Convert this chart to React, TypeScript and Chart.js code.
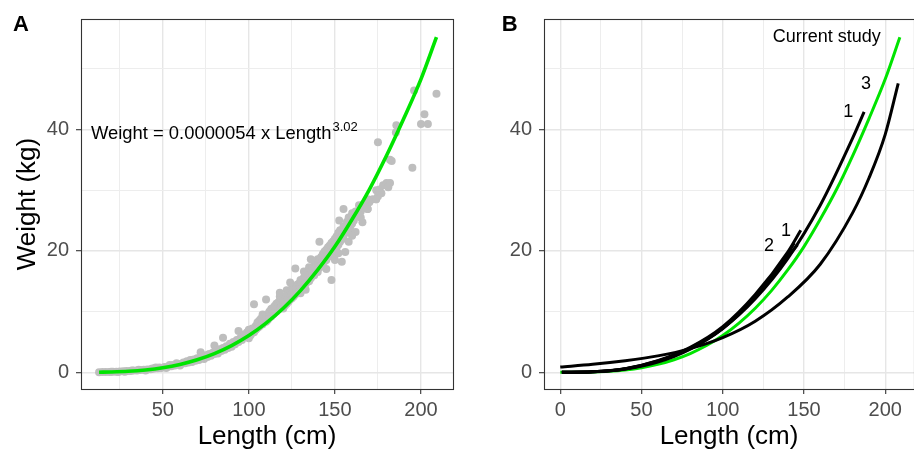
import React, { useEffect, useRef } from 'react';
import { Chart, registerables } from 'chart.js';

Chart.register(...registerables);

// ---------- Panel A: observed length-weight pairs ----------
const scatterLength = [
  13, 15, 17, 19, 20, 21, 23, 24, 25, 27,
  28, 29, 31, 32, 33, 35, 36, 37, 39, 40,
  41, 43, 44, 45, 46, 47, 48, 49, 51, 52,
  53, 54, 55, 56, 57, 58, 59, 60, 61, 62,
  63, 64, 65, 66, 67, 68, 69, 70, 71, 72,
  72, 73, 74, 75, 76, 77, 78, 79, 80, 80,
  81, 82, 83, 84, 85, 85, 86, 87, 88, 89,
  90, 91, 92, 93, 94, 94, 95, 96, 97, 98,
  99, 100, 100, 100, 101, 102, 102, 103, 103, 104,
  104, 105, 105, 106, 106, 107, 107, 108, 108, 108,
  109, 109, 110, 110, 110, 111, 111, 112, 112, 113,
  113, 114, 114, 115, 115, 116, 116, 117, 117, 118,
  118, 118, 119, 119, 120, 120, 120, 121, 121, 122,
  122, 122, 123, 123, 124, 124, 125, 125, 125, 126,
  126, 127, 127, 127, 128, 128, 129, 129, 130, 130,
  130, 131, 131, 132, 132, 132, 133, 133, 133, 134,
  134, 135, 135, 135, 136, 136, 137, 137, 138, 138,
  138, 139, 139, 140, 140, 140, 141, 141, 141, 142,
  142, 143, 143, 144, 144, 145, 145, 146, 146, 147,
  147, 148, 148, 148, 149, 149, 150, 150, 150, 151,
  151, 152, 152, 153, 153, 154, 154, 155, 155, 155,
  156, 156, 157, 157, 158, 158, 159, 160, 160, 161,
  162, 162, 163, 164, 164, 165, 166, 166, 167, 168,
  169, 169, 170, 172, 174, 174, 175, 175, 176, 177,
  178, 180, 181, 182, 182, 183, 152.5, 169, 173.8,
  118, 124, 136, 145, 150, 152, 158, 160, 165,
  185.4, 185.7, 196, 209, 202, 200, 204, 195,
];
const scatterWeight = [
  0.02, 0.03, 0.05, 0.06, 0.1, 0.08, 0.1, 0.05, 0.12, 0.15,
  0.1, 0.2, 0.22, 0.3, 0.28, 0.3, 0.4, 0.35, 0.4, 0.3,
  0.45, 0.5, 0.6, 0.6, 0.8, 0.65, 0.8, 0.7, 0.85, 0.7,
  0.9, 1.2, 1.0, 1.2, 1.1, 1.5, 1.3, 1.1, 1.4, 1.6,
  1.5, 1.8, 1.6, 2.0, 1.7, 2.1, 1.9, 2.3, 2.0, 3.3,
  2.4, 2.6, 2.2, 2.8, 2.5, 3.0, 2.7, 3.2, 4.4, 3.0,
  3.4, 3.1, 3.8, 3.5, 5.7, 4.0, 3.7, 4.3, 4.0, 4.7,
  4.2, 5.0, 4.6, 5.3, 6.8, 5.0, 5.6, 5.3, 6.2, 5.8,
  6.6, 5.6, 6.4, 7.0, 6.1, 6.5, 7.2, 11.2, 6.6, 7.0,
  7.6, 7.3, 8.2, 7.5, 8.5, 7.8, 8.8, 7.9, 8.9, 9.5,
  8.3, 9.3, 12.0, 8.3, 9.0, 8.6, 9.6, 9.0, 10.0, 9.2,
  10.4, 9.5, 10.6, 9.8, 10.9, 10.0, 11.3, 10.3, 11.5, 10.5,
  11.8, 12.5, 10.8, 12.1, 10.5, 11.2, 12.3, 11.0, 12.4, 11.3,
  12.6, 13.5, 11.6, 12.9, 12.0, 13.4, 12.2, 13.8, 12.9, 12.5,
  14.1, 17.1, 12.8, 14.0, 13.2, 14.4, 13.3, 14.6, 13.0, 14.2,
  15.2, 13.8, 14.8, 14.1, 15.6, 16.6, 13.6, 14.6, 15.8, 14.9,
  16.2, 15.0, 16.5, 17.3, 15.5, 16.8, 15.9, 17.2, 16.0, 17.5,
  18.2, 16.6, 17.9, 16.5, 17.4, 18.6, 21.5, 17.2, 18.4, 17.6,
  19.0, 17.9, 19.5, 18.3, 19.9, 18.5, 20.2, 19.0, 20.6, 19.3,
  20.9, 15.2, 19.5, 21.3, 20.0, 21.6, 19.5, 20.8, 22.0, 20.6,
  22.4, 21.0, 23.0, 21.5, 23.4, 18.2, 22.3, 22.0, 24.0, 26.9,
  19.8, 23.1, 23.0, 24.8, 23.5, 25.5, 24.0, 24.5, 26.2, 25.0,
  23.1, 26.5, 25.8, 26.0, 27.5, 26.5, 24.7, 27.5, 27.0, 27.5,
  26.9, 28.5, 28.0, 28.5, 28.5, 30.0, 29.0, 37.9, 30.1, 29.5,
  30.8, 31.2, 30.5, 31.2, 35.0, 34.8, 25.0, 26.9, 28.5,
  13.1, 14.8, 18.6, 17.0, 18.5, 19.6, 21.5, 22.5, 25.5,
  39.5, 40.7, 46.4, 45.9, 42.5, 40.9, 40.9, 33.7,
];

// ---------- Fitted curve of the current study ----------
const fitLength = [0, 13, 20, 30, 40, 50, 60, 70, 80, 90, 100, 110, 120, 130, 140, 150, 160, 170, 180, 190, 200, 209];
const fitWeight = [0, 0.01, 0.05, 0.16, 0.38, 0.74, 1.29, 2.06, 3.08, 4.4, 6.05, 8.1, 10.55, 13.45, 16.85, 20.7, 25.2, 30.1, 35.7, 41.8, 48.3, 55.2];

// ---------- Panel B: published relationships ----------
const study1Length = [1, 20, 40, 60, 80, 100, 120, 140, 160, 180, 187];
const study1Weight = [0, 0.07, 0.53, 1.68, 3.82, 7.2, 12.1, 18.7, 27.5, 38.6, 42.9];
const study1bLength = [1, 20, 40, 60, 80, 100, 120, 140, 148];
const study1bWeight = [0, 0.08, 0.6, 1.9, 4.1, 7.5, 12.8, 19.8, 23.4];
const study2Length = [1, 20, 40, 60, 80, 100, 120, 140, 146];
const study2Weight = [0, 0.07, 0.55, 1.8, 3.9, 7.2, 12.3, 19.0, 21.0];
const study2bLength = [1, 20, 40, 60, 80, 100, 120, 140, 144];
const study2bWeight = [0, 0.08, 0.58, 1.85, 4.0, 7.3, 12.6, 19.5, 21.3];
const study3Length = [0, 20, 40, 60, 80, 100, 120, 140, 160, 180, 190, 200, 208];
const study3Weight = [0.86, 1.3, 1.9, 2.7, 3.9, 5.7, 8.4, 12.4, 17.8, 26.3, 32.0, 39.2, 47.6];

// ---------- Axes ----------
const xGridA = [25, 50, 75, 100, 125, 150, 175, 200];
const xGridB = [0, 25, 50, 75, 100, 125, 150, 175, 200];
const xLabelValues = [0, 50, 100, 150, 200];
const yGrid = [0, 10, 20, 30, 40, 50];
const yLabelValues = [0, 20, 40];

// ---------- Annotations ----------
const equationText = 'Weight = 0.0000054 x Length';
const equationExponent = '3.02';
const equationAt = [8.3, 38.5];
const labelTextsB = ['Current study', '1', '3', '1', '2'];
const labelLengthB = [164, 177.2, 188.1, 138.9, 128.4];
const labelWeightB = [55.3, 42.9, 47.5, 23.2, 20.8];

const FONT = '"Liberation Sans", Arial, Helvetica, sans-serif';
const GREEN = '#00e400';
const GRID_MAJOR = '#e6e6e6';
const GRID_MINOR = '#ededed';
const AXIS_DARK = '#333333';

const pts = (xs: number[], ys: number[]) => xs.map((x, i) => ({ x, y: ys[i] }));

function makeScales(xMin: number, xMax: number, xGrid: number[], yWidth: number, showYTitle: boolean) {
  const gridOpts = (labels: number[]) => ({
    drawTicks: true,
    tickLength: 5,
    color: (c: any) => (c.tick && labels.includes(c.tick.value) ? GRID_MAJOR : GRID_MINOR),
    lineWidth: (c: any) => (c.tick && labels.includes(c.tick.value) ? 1.4 : 1.0),
    tickColor: (c: any) => (c.tick && labels.includes(c.tick.value) ? AXIS_DARK : 'rgba(0,0,0,0)'),
    tickWidth: 1.1,
  });
  return {
    x: {
      type: 'linear',
      min: xMin,
      max: xMax,
      afterBuildTicks: (s: any) => {
        s.ticks = xGrid.map((v) => ({ value: v }));
      },
      afterFit: (s: any) => {
        s.height = 65;
      },
      grid: gridOpts(xLabelValues),
      border: { display: false },
      ticks: {
        autoSkip: false,
        maxRotation: 0,
        minRotation: 0,
        padding: 4,
        color: '#4d4d4d',
        font: { family: FONT, size: 20 },
        callback: (v: any) => (xLabelValues.includes(v) ? String(v) : ''),
      },
      title: {
        display: true,
        text: 'Length (cm)',
        color: '#000',
        font: { family: FONT, size: 26, lineHeight: 1.2 },
        padding: { top: 0, bottom: 1.5 },
      },
    },
    y: {
      type: 'linear',
      min: -2.76,
      max: 58.2,
      afterBuildTicks: (s: any) => {
        s.ticks = yGrid.map((v) => ({ value: v }));
      },
      afterFit: (s: any) => {
        s.width = yWidth;
      },
      grid: gridOpts(yLabelValues),
      border: { display: false },
      ticks: {
        autoSkip: false,
        padding: 7,
        color: '#4d4d4d',
        font: { family: FONT, size: 20 },
        callback: (v: any) => (yLabelValues.includes(v) ? String(v) : ''),
      },
      title: {
        display: showYTitle,
        text: 'Weight (kg)',
        color: '#000',
        font: { family: FONT, size: 26, lineHeight: 1.2 },
        padding: { top: 12, bottom: 0 },
      },
    },
  };
}

const borderPlugin = (letter: string, letterX: number) => ({
  id: 'panelDecor' + letter,
  afterDraw(chart: any) {
    const { ctx, chartArea: a } = chart;
    ctx.save();
    ctx.strokeStyle = AXIS_DARK;
    ctx.lineWidth = 1.1;
    ctx.strokeRect(Math.round(a.left) + 0.5, Math.round(a.top) + 0.5, Math.round(a.right - a.left), Math.round(a.bottom - a.top));
    ctx.fillStyle = '#000';
    ctx.textBaseline = 'alphabetic';
    ctx.textAlign = 'left';
    ctx.font = `bold 22px ${FONT}`;
    ctx.fillText(letter, letterX, 30.5);
    ctx.restore();
  },
});

const equationPlugin = {
  id: 'equationA',
  afterDatasetsDraw(chart: any) {
    const { ctx, scales } = chart;
    const ex = scales.x.getPixelForValue(equationAt[0]);
    const ey = scales.y.getPixelForValue(equationAt[1]);
    ctx.save();
    ctx.fillStyle = '#000';
    ctx.textBaseline = 'alphabetic';
    ctx.textAlign = 'left';
    ctx.font = `18.4px ${FONT}`;
    ctx.fillText(equationText, ex, ey);
    const w = ctx.measureText(equationText).width;
    ctx.font = `13px ${FONT}`;
    ctx.fillText(equationExponent, ex + w + 1, ey - 8);
    ctx.restore();
  },
};

const labelsPluginB = {
  id: 'labelsB',
  afterDatasetsDraw(chart: any) {
    const { ctx, scales } = chart;
    ctx.save();
    ctx.fillStyle = '#000';
    ctx.textBaseline = 'middle';
    ctx.textAlign = 'center';
    ctx.font = `18px ${FONT}`;
    labelTextsB.forEach((t, i) => {
      ctx.fillText(t, scales.x.getPixelForValue(labelLengthB[i]), scales.y.getPixelForValue(labelWeightB[i]));
    });
    ctx.restore();
  },
};

const curve = (xs: number[], ys: number[], color: string, width: number) => ({
  data: pts(xs, ys),
  showLine: true,
  borderColor: color,
  borderWidth: width,
  pointRadius: 0,
  cubicInterpolationMode: 'monotone',
  borderCapStyle: 'butt',
  fill: false,
});

export default function App() {
  const refA = useRef<HTMLCanvasElement>(null);
  const refB = useRef<HTMLCanvasElement>(null);

  useEffect(() => {
    const chartA = new Chart(refA.current as HTMLCanvasElement, {
      type: 'scatter',
      data: {
        datasets: [
          curve(fitLength.slice(1), fitWeight.slice(1), GREEN, 3.6) as any,
          {
            data: pts(scatterLength, scatterWeight),
            backgroundColor: '#bebebe',
            borderWidth: 0,
            pointRadius: 4,
          },
        ],
      },
      options: {
        responsive: false,
        animation: false,
        events: [],
        layout: { padding: { left: 0, right: 3, top: 14, bottom: 0 } },
        plugins: { legend: { display: false }, tooltip: { enabled: false } },
        scales: makeScales(2.5, 218.6, xGridA, 81, true) as any,
      },
      plugins: [borderPlugin('A', 13), equationPlugin],
    });

    const chartB = new Chart(refB.current as HTMLCanvasElement, {
      type: 'scatter',
      data: {
        datasets: [
          curve(study1Length, study1Weight, '#000', 3) as any,
          curve(study1bLength, study1bWeight, '#000', 3) as any,
          curve(study2Length, study2Weight, '#000', 3) as any,
          curve(study2bLength, study2bWeight, '#000', 3) as any,
          curve(study3Length, study3Weight, '#000', 3) as any,
          curve(fitLength, fitWeight, GREEN, 3) as any,
        ],
      },
      options: {
        responsive: false,
        animation: false,
        events: [],
        layout: { padding: { left: 0, right: 0, top: 14, bottom: 0 } },
        plugins: { legend: { display: false }, tooltip: { enabled: false } },
        scales: makeScales(-10, 217.7, xGridB, 87, false) as any,
      },
      plugins: [borderPlugin('B', 44.7), labelsPluginB],
    });

    return () => {
      chartA.destroy();
      chartB.destroy();
    };
  }, []);

  return (
    <div style={{ position: 'fixed', left: 0, top: 0, width: 914, height: 454, background: '#fff' }}>
      <canvas ref={refA} width={457} height={454} style={{ position: 'absolute', left: 0, top: 0, width: 457, height: 454 }} />
      <canvas ref={refB} width={457} height={454} style={{ position: 'absolute', left: 457, top: 0, width: 457, height: 454 }} />
    </div>
  );
}
